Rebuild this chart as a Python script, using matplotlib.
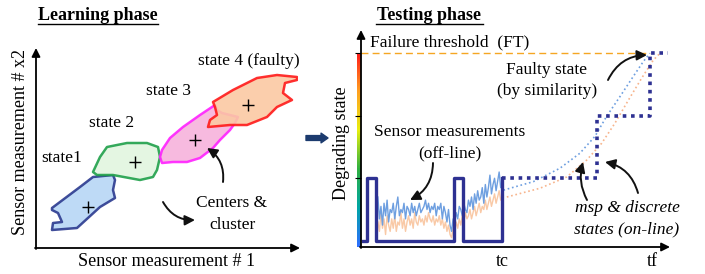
import numpy as np
import matplotlib
matplotlib.use("Agg")
import matplotlib.pyplot as plt
from matplotlib.colors import LinearSegmentedColormap

plt.rcParams['font.family'] = ['Liberation Serif', 'DejaVu Serif']

# ---- learning phase: cluster outlines (sensor #1, sensor #2) ----
state1_x = [16, 44, 57, 77, 79, 77, 79, 64, 41, 16, 17, 26, 22, 16]
state1_y = [40, 61, 71, 73, 68, 58, 50, 41, 20, 18, 25, 26, 35, 38]
state2_x = [57, 64, 71, 91, 111, 122, 124, 121, 117, 104, 77, 61]
state2_y = [76, 91, 101, 105, 105, 101, 91, 78, 71, 68, 73, 73]
state3_x = [126, 134, 147, 164, 176, 179, 181, 186, 202, 199, 194, 184, 177, 164, 151, 137, 126, 124]
state3_y = [98, 110, 121, 133, 141, 143, 138, 135, 131, 125, 118, 108, 100, 90, 86, 86, 85, 91]
state4_x = [177, 197, 221, 241, 261, 261, 249, 247, 256, 241, 231, 211, 194, 172, 174, 181, 179]
state4_y = [146, 158, 170, 173, 171, 168, 165, 155, 148, 141, 131, 123, 123, 121, 128, 133, 141]
centers_x = [52, 99, 159, 212]
centers_y = [41, 86, 108, 143]

# ---- testing phase ----
tc = 46
tf = 95
sensor_t0 = 5.5
blue_meas = [0.7, 0.35, 0.55, 0.25, 0.6, 0.4, 0.65, 0.3, 0.5, 0.45,
             0.6, 0.35, 0.55, 0.7, 0.4, 0.5, 0.45, 0.6, 0.35, 0.55,
             0.5, 0.4, 0.6, 0.45, 0.55, 0.4, 0.5, 0.6, 0.45, 0.5,
             0.55, 0.65, 0.5, 0.6, 0.45, 0.55, 0.5, 0.6, 0.4, 0.55,
             0.5, 0.6, 0.35, 0.55, 0.45, 0.3, 0.5, 0.25, 0.15, 0.35,
             0.3, 0.45, 0.35, 0.55, 0.5, 0.4, 0.6, 0.5, 0.45, 0.65,
             0.55, 0.7, 0.5, 0.75, 0.6, 0.8, 0.65, 0.7, 0.85, 0.6,
             0.9, 0.7, 0.85, 1.05, 0.75, 0.9, 1.0, 0.8, 0.95, 1.1, 0.85, 0.9]
peach_meas = [0.3, 0.15, 0.45, 0.2, 0.35, 0.1, 0.4, 0.25, 0.15, 0.35,
              0.2, 0.4, 0.15, 0.3, 0.25, 0.45, 0.2, 0.35, 0.15, 0.3,
              0.4, 0.25, 0.35, 0.2, 0.45, 0.3, 0.25, 0.4, 0.3, 0.35,
              0.25, 0.4, 0.3, 0.45, 0.35, 0.3, 0.4, 0.25, 0.35, 0.3,
              0.4, 0.25, 0.35, 0.2, 0.3, 0.15, 0.25, 0.1, 0.05, 0.2,
              0.15, 0.3, 0.2, 0.35, 0.25, 0.4, 0.3, 0.45, 0.35, 0.4,
              0.5, 0.35, 0.45, 0.55, 0.4, 0.5, 0.6, 0.45, 0.55, 0.5,
              0.65, 0.5, 0.6, 0.7, 0.55, 0.65, 0.75, 0.6, 0.7, 0.8, 0.65, 0.7]
blue_pred_t = [46.4, 56.1, 64.8, 71.3, 76.2, 80.0, 84.4, 88.7, 92.0, 94.1]
blue_pred_v = [0.81, 0.945, 1.16, 1.40, 1.67, 1.99, 2.31, 2.63, 2.87, 3.0]
peach_pred_t = [47.5, 58.3, 67.0, 73.5, 78.4, 82.7, 87.1, 91.4, 95.2, 97.4]
peach_pred_v = [0.70, 0.84, 1.02, 1.29, 1.56, 1.88, 2.25, 2.60, 2.89, 3.0]
offline_t = [0.8, 1.9, 1.9, 4.9, 4.9, 30.3, 30.3, 33.1, 33.1, 45.8, 45.8]
offline_s = [0, 0, 1, 1, 0, 0, 1, 1, 0, 0, 1]
online_t = [45.8, 76.9, 76.9, 94.1, 94.1, 100]
online_s = [1, 1, 2, 2, 3, 3]
state_levels = [1, 2, 3]
failure_level = 3

W, H = 705, 274
fig = plt.figure(figsize=(W / 100, H / 100), dpi=100)

def px_axes(x0, x1, ytop, ybot):
    return fig.add_axes([x0 / W, (H - ybot) / H, (x1 - x0) / W, (ybot - ytop) / H])

# left panel
axL = px_axes(36, 298, 50, 248)
axL.set_xlim(0, 262)
axL.set_ylim(0, 198)
axL.axis('off')
clusters = [(state1_x, state1_y, '#b7d6f6', '#2b3a8f'),
            (state2_x, state2_y, '#e2f5df', '#1fa04a'),
            (state3_x, state3_y, '#f7b3dc', '#ff22ff'),
            (state4_x, state4_y, '#fbc9a3', '#ff1a1a')]
for xs, ys, fc, ec in clusters:
    axL.fill(xs, ys, facecolor=fc, edgecolor=ec, lw=1.8, alpha=0.9, joinstyle='round')
axL.scatter(centers_x, centers_y, marker='+', s=70, color='black', lw=1.0, zorder=5)

# right panel
axR = px_axes(361, 668, 32, 247)
axR.set_xlim(0, 100)
axR.set_ylim(-0.1, 3.34)
for s in axR.spines.values():
    s.set_visible(False)
axR.patch.set_alpha(0)
t_meas = sensor_t0 + 0.5 * np.arange(len(blue_meas))
axR.plot(t_meas, peach_meas, color='#f9c9a6', lw=1.0)
axR.plot(t_meas, blue_meas, color='#6e9fe0', lw=1.0)
axR.plot(blue_pred_t, blue_pred_v, color='#6e9fe0', lw=1.2, ls=':')
axR.plot(peach_pred_t, peach_pred_v, color='#f7b48c', lw=1.2, ls=':')
axR.plot(offline_t, offline_s, color='#2e3192', lw=2.4, solid_joinstyle='round')
axR.plot(online_t, online_s, color='#2e3192', lw=2.6, ls=(0, (1, 1.3)), dash_capstyle='butt')
axR.plot([0, 94.1], [failure_level, failure_level], color='#f5a623', lw=1.0, ls=(0, (5, 3)))
axR.set_yticks(state_levels)
axR.set_yticklabels([])
axR.tick_params(axis='y', length=4, width=0.8, direction='out')
axR.set_xticks([tc, tf])
axR.set_xticklabels(['tc', 'tf'], fontsize=13)
axR.tick_params(axis='x', length=0, pad=4)

# colour strip
axC = px_axes(357, 361, 53, 247)
cmap = LinearSegmentedColormap.from_list('deg', ['#2f6fff', '#00a6a6', '#2fb040', '#e8ef10', '#ffa020', '#ff1a1a'])
axC.imshow(np.linspace(0, 1, 200).reshape(-1, 1), cmap=cmap, aspect='auto', origin='lower')
axC.axis('off')
axR.set_zorder(3)

# overlay for text and arrows (pixel coordinates)
ov = fig.add_axes([0, 0, 1, 1])
ov.set_xlim(0, W)
ov.set_ylim(H, 0)
ov.axis('off')
ov.patch.set_alpha(0)
ov.set_zorder(5)

ax_arrow = dict(arrowstyle='-|>,head_length=0.5,head_width=0.25', color='black', lw=1.3, shrinkA=0, shrinkB=0)
ov.annotate('', xy=(36, 48), xytext=(36, 249), arrowprops=ax_arrow)
ov.annotate('', xy=(300, 248), xytext=(35, 248), arrowprops=ax_arrow)
ov.annotate('', xy=(361, 30), xytext=(361, 248), arrowprops=ax_arrow)
ov.annotate('', xy=(670, 247), xytext=(360, 247), arrowprops=ax_arrow)

fs = 12.5
ov.text(98, 15, 'Learning phase', fontsize=13, fontweight='bold', ha='center', va='center')
ov.plot([38, 158], [24, 24], color='black', lw=1.0)
ov.text(429, 15, 'Testing phase', fontsize=13, fontweight='bold', ha='center', va='center')
ov.plot([376, 483], [24, 24], color='black', lw=1.0)

ov.text(167, 262, 'Sensor measurement # 1', fontsize=13, ha='center', va='center')
ov.text(21, 142, 'Sensor measurement # x2', fontsize=13, ha='center', va='center', rotation=90)
ov.text(62, 158, 'state1', fontsize=fs, ha='center', va='center')
ov.text(112, 123, 'state 2', fontsize=fs, ha='center', va='center')
ov.text(168, 91, 'state 3', fontsize=fs, ha='center', va='center')
ov.text(249, 61, 'state 4 (faulty)', fontsize=fs, ha='center', va='center')
ov.text(232, 203, 'Centers &', fontsize=fs, ha='center', va='center')
ov.text(232, 225, 'cluster', fontsize=fs, ha='center', va='center')

ov.text(342, 143, 'Degrading state', fontsize=13, ha='center', va='center', rotation=90)
ov.text(450, 42, 'Failure threshold  (FT)', fontsize=fs, ha='center', va='center')
ov.text(450, 132, 'Sensor measurements', fontsize=fs, ha='center', va='center')
ov.text(450, 153, '(off-line)', fontsize=fs, ha='center', va='center')
ov.text(547, 70, 'Faulty state', fontsize=fs, ha='center', va='center')
ov.text(547, 91, '(by similarity)', fontsize=fs, ha='center', va='center')
ov.text(627, 208, 'msp & discrete', fontsize=fs, ha='center', va='center', style='italic')
ov.text(627, 229, 'states (on-line)', fontsize=fs, ha='center', va='center', style='italic')

curve = dict(arrowstyle='-|>,head_length=0.6,head_width=0.3', color='#111111', lw=1.4, shrinkA=0, shrinkB=0)
ov.annotate('', xy=(207, 148), xytext=(223, 182), arrowprops=dict(curve, connectionstyle='arc3,rad=0.3'))
ov.annotate('', xy=(195, 220), xytext=(163, 202), arrowprops=dict(curve, connectionstyle='arc3,rad=0.3'))
ov.annotate('', xy=(410, 200), xytext=(433, 163), arrowprops=dict(curve, connectionstyle='arc3,rad=-0.3'))
ov.annotate('', xy=(647, 55), xytext=(608, 80), arrowprops=dict(curve, connectionstyle='arc3,rad=-0.3'))
ov.annotate('', xy=(583, 162), xytext=(587, 200), arrowprops=dict(curve, connectionstyle='arc3,rad=-0.2'))
ov.annotate('', xy=(605, 162), xytext=(638, 193), arrowprops=dict(curve, connectionstyle='arc3,rad=0.3'))

ov.annotate('', xy=(328, 138), xytext=(306, 138),
            arrowprops=dict(arrowstyle='simple,head_length=0.5,head_width=0.7,tail_width=0.35',
                            color='#1c3b6e', shrinkA=0, shrinkB=0))

fig.savefig('out.png', dpi=100)
